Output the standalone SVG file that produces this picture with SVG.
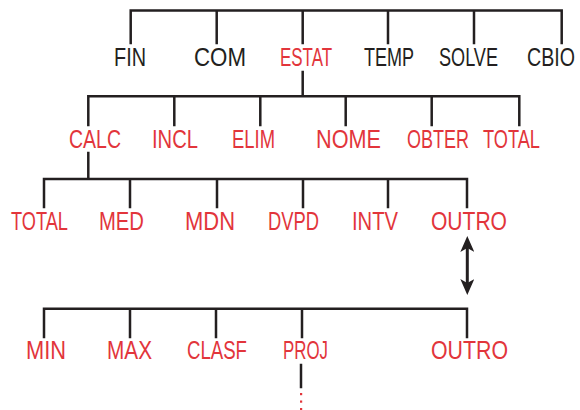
<svg xmlns="http://www.w3.org/2000/svg" width="580" height="410" viewBox="0 0 580 410">
  <style>
    .ln { stroke: #231f20; stroke-width: 2.5; fill: none; stroke-linecap: square; }
    .t { font-family: "Liberation Sans", Arial, sans-serif; font-size: 25px; }
    .k { fill: #231f20; }
    .r { fill: #e2353b; }
  </style>
  <defs>
    <marker id="ah" markerUnits="userSpaceOnUse" markerWidth="16" markerHeight="14" viewBox="0 0 16 14" refX="4" refY="7" orient="auto-start-reverse">
      <path d="M0,0 L16,7 L0,14 L4,7 Z" fill="#231f20"/>
    </marker>
  </defs>
  <rect width="580" height="410" fill="#ffffff"/>
  <g id="connectors">
    <path class="ln" d="M130.7,43 V10.5 H561.7 V43 M216.7,10.5 V43 M302.7,10.5 V43 M388,10.5 V43 M474,10.5 V43"/>
    <path class="ln" d="M302.7,72 V96.3 M88.3,125 V96.3 H519.3 V125 M174.3,96.3 V125 M260.3,96.3 V125 M345.7,96.3 V125 M431.7,96.3 V125"/>
    <path class="ln" d="M88.3,153 V179 M44,207 V179 H467 V207 M130,179 V207 M217,179 V207 M303,179 V207 M388,179 V207"/>
    <path class="ln" d="M44,337 V308.7 H467 V337 M130,308.7 V337 M216,308.7 V337 M302,308.7 V337"/>
    <path class="ln" d="M301,365 V387" stroke-linecap="butt"/>
    <line x1="467.3" y1="248" x2="467.3" y2="283" stroke="#231f20" stroke-width="3" marker-start="url(#ah)" marker-end="url(#ah)"/>
    <g fill="#e2353b">
      <rect x="300" y="393" width="2.2" height="2.2"/>
      <rect x="300" y="400.5" width="2.2" height="2.2"/>
      <rect x="300" y="408" width="2.2" height="2.2"/>
    </g>
  </g>
  <g id="n-fin"><text class="t k" x="114" y="65.5" textLength="32" lengthAdjust="spacingAndGlyphs">FIN</text></g>
  <g id="n-com"><text class="t k" x="194" y="65.5" textLength="52" lengthAdjust="spacingAndGlyphs">COM</text></g>
  <g id="n-estat"><text class="t r" x="280" y="65.5" textLength="52" lengthAdjust="spacingAndGlyphs">ESTAT</text></g>
  <g id="n-temp"><text class="t k" x="364" y="65.5" textLength="50" lengthAdjust="spacingAndGlyphs">TEMP</text></g>
  <g id="n-solve"><text class="t k" x="439" y="65.5" textLength="59" lengthAdjust="spacingAndGlyphs">SOLVE</text></g>
  <g id="n-cbio"><text class="t k" x="527" y="65.5" textLength="48" lengthAdjust="spacingAndGlyphs">CBIO</text></g>

  <g id="n-calc"><text class="t r" x="69" y="148" textLength="52" lengthAdjust="spacingAndGlyphs">CALC</text></g>
  <g id="n-incl"><text class="t r" x="152" y="148" textLength="46" lengthAdjust="spacingAndGlyphs">INCL</text></g>
  <g id="n-elim"><text class="t r" x="232" y="148" textLength="43" lengthAdjust="spacingAndGlyphs">ELIM</text></g>
  <g id="n-nome"><text class="t r" x="316" y="148" textLength="65" lengthAdjust="spacingAndGlyphs">NOME</text></g>
  <g id="n-obter"><text class="t r" x="407" y="148" textLength="62" lengthAdjust="spacingAndGlyphs">OBTER</text></g>
  <g id="n-total1"><text class="t r" x="483" y="148" textLength="57" lengthAdjust="spacingAndGlyphs">TOTAL</text></g>

  <g id="n-total2"><text class="t r" x="11" y="230" textLength="57" lengthAdjust="spacingAndGlyphs">TOTAL</text></g>
  <g id="n-med"><text class="t r" x="99" y="230" textLength="45" lengthAdjust="spacingAndGlyphs">MED</text></g>
  <g id="n-mdn"><text class="t r" x="185" y="230" textLength="50" lengthAdjust="spacingAndGlyphs">MDN</text></g>
  <g id="n-dvpd"><text class="t r" x="268" y="230" textLength="51" lengthAdjust="spacingAndGlyphs">DVPD</text></g>
  <g id="n-intv"><text class="t r" x="352" y="230" textLength="46" lengthAdjust="spacingAndGlyphs">INTV</text></g>
  <g id="n-outro1"><text class="t r" x="431" y="230" textLength="76" lengthAdjust="spacingAndGlyphs">OUTRO</text></g>

  <g id="n-min"><text class="t r" x="26" y="359" textLength="40" lengthAdjust="spacingAndGlyphs">MIN</text></g>
  <g id="n-max"><text class="t r" x="107" y="359" textLength="45" lengthAdjust="spacingAndGlyphs">MAX</text></g>
  <g id="n-clasf"><text class="t r" x="187" y="359" textLength="60" lengthAdjust="spacingAndGlyphs">CLASF</text></g>
  <g id="n-proj"><text class="t r" x="283" y="359" textLength="45" lengthAdjust="spacingAndGlyphs">PROJ</text></g>
  <g id="n-outro2"><text class="t r" x="431" y="359" textLength="77" lengthAdjust="spacingAndGlyphs">OUTRO</text></g>
</svg>
